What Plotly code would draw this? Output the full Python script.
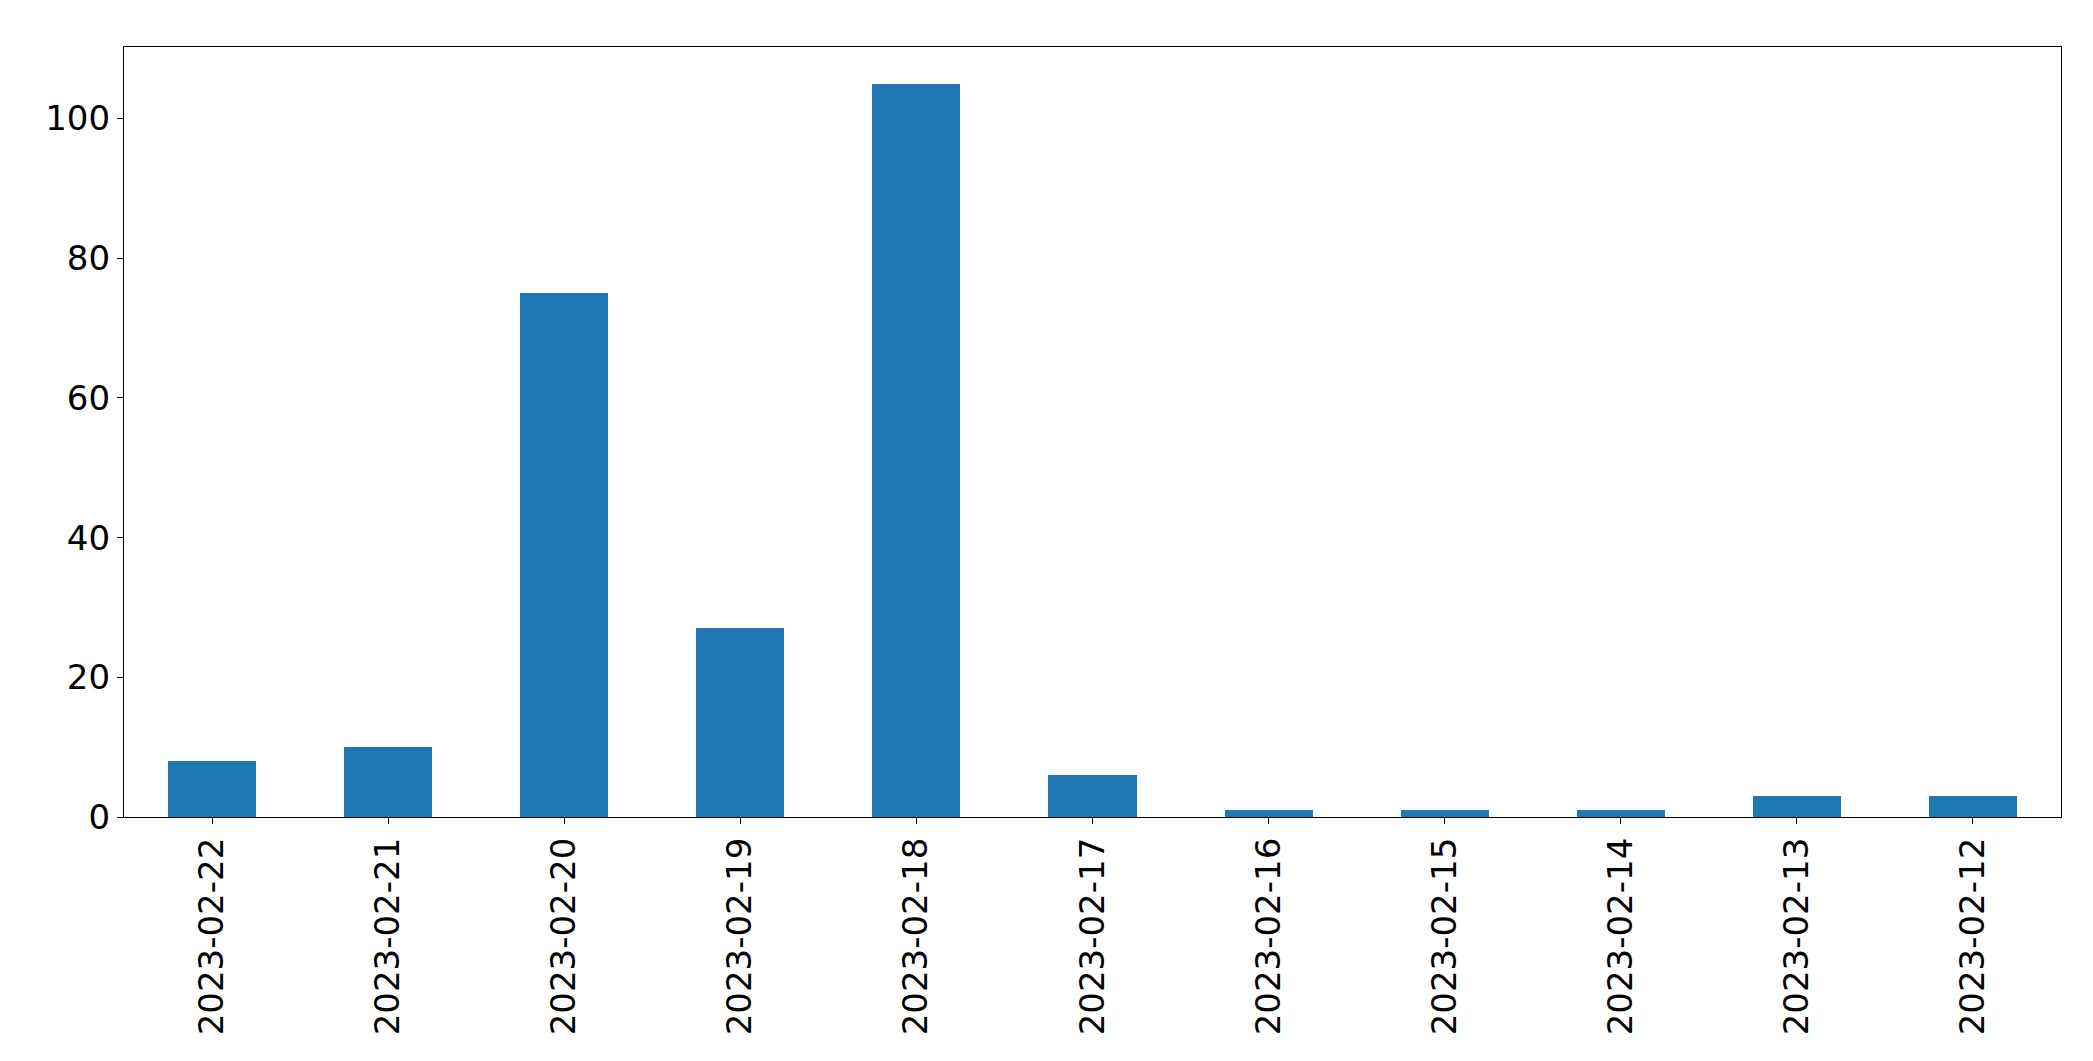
import plotly.graph_objects as go

dates = ["2023-02-22", "2023-02-21", "2023-02-20", "2023-02-19", "2023-02-18",
         "2023-02-17", "2023-02-16", "2023-02-15", "2023-02-14", "2023-02-13", "2023-02-12"]
counts = [8, 10, 75, 27, 105, 6, 1, 1, 1, 3, 3]
y_ticks = [0, 20, 40, 60, 80, 100]

fig = go.Figure(go.Bar(x=dates, y=counts, width=0.5, marker=dict(color="#1f77b4", line=dict(width=0))))

fig.update_layout(
    width=2093, height=1061,
    margin=dict(l=116, r=40, t=39, b=252),
    paper_bgcolor="white", plot_bgcolor="white",
    font=dict(family="DejaVu Sans", size=34, color="black"),
    showlegend=False,
    bargap=0,
)
fig.update_xaxes(
    type="category", range=[-0.5, len(dates) - 0.5],
    tickangle=-90, ticks="outside", ticklen=6, tickwidth=1.3, tickcolor="black",
    showline=True, linecolor="black", linewidth=1.3, mirror=True,
    showgrid=False, zeroline=False, tickfont=dict(size=34),
)
fig.update_yaxes(
    range=[0, 110.25], tickvals=y_ticks, ticks="outside", ticklen=6, tickwidth=1.3,
    tickcolor="black", showline=True, linecolor="black", linewidth=1.3, mirror=True,
    showgrid=False, zeroline=False, tickfont=dict(size=34),
)

fig.write_html("out.html")
